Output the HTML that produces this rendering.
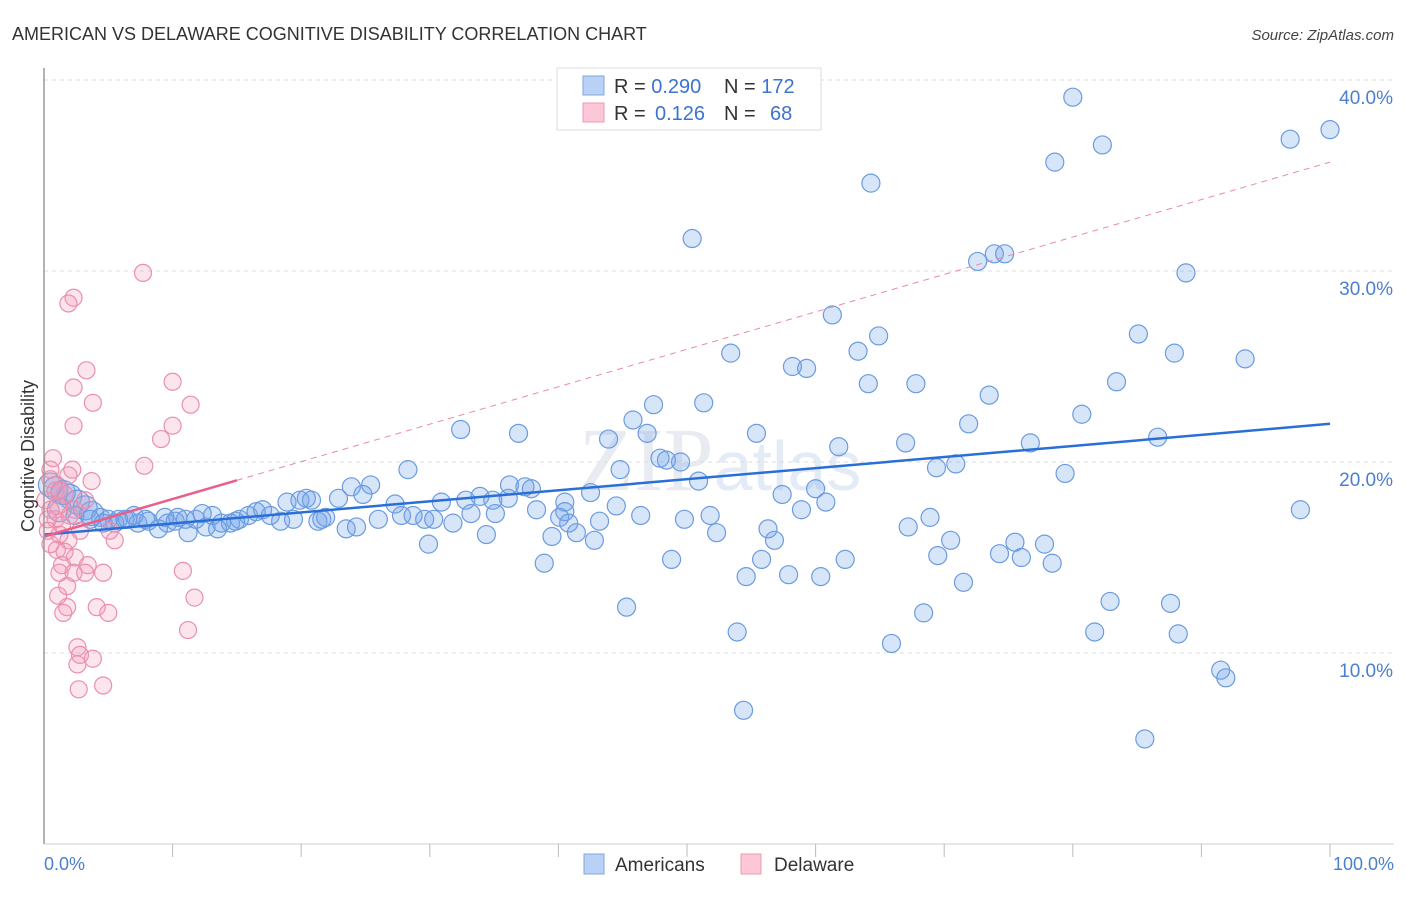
<!DOCTYPE html>
<html><head><meta charset="utf-8"><style>
body{margin:0;background:#fff;font-family:"Liberation Sans",sans-serif}
</style></head><body>
<svg id="c" width="1406" height="892" xmlns="http://www.w3.org/2000/svg" font-family="Liberation Sans, sans-serif">
<text x="12" y="40" font-size="18" fill="#333">AMERICAN VS DELAWARE COGNITIVE DISABILITY CORRELATION CHART</text>
<text x="1394" y="40" font-size="15" fill="#444" text-anchor="end" font-style="italic">Source: ZipAtlas.com</text>
<text x="720" y="490" font-size="90" fill="#e8ebf1" text-anchor="middle" font-family="Liberation Serif, serif">ZIP<tspan font-family="Liberation Sans, sans-serif" font-size="70" fill="#e3ebf7">atlas</tspan></text>
<g id="grid"></g><g id="pts"></g><g id="lines"></g>
<line x1="44" y1="68" x2="44" y2="844" stroke="#999" stroke-width="1.5"/>
<line x1="44" y1="844" x2="1394" y2="844" stroke="#ccc" stroke-width="1"/>
<g id="ticks"></g>
<text transform="translate(34,456) rotate(-90)" font-size="18" fill="#333" text-anchor="middle">Cognitive Disability</text>
<text x="44" y="870" font-size="18" fill="#4a7fd0">0.0%</text>
<text x="1394" y="870" font-size="18" fill="#4a7fd0" text-anchor="end">100.0%</text>
<g>
<rect x="557" y="68" width="264" height="62" fill="#fff" stroke="#ddd"/>
<rect x="583" y="76" width="21" height="19" fill="#b9d1f5" stroke="#7fa6e0"/>
<rect x="583" y="103" width="21" height="19" fill="#fcc7d6" stroke="#ee9ab3"/>
<text x="614" y="93" font-size="20" fill="#333">R = <tspan fill="#3b73cf">0.290</tspan><tspan x="724">N = </tspan><tspan fill="#3b73cf">172</tspan></text>
<text x="614" y="120" font-size="20" fill="#333">R = <tspan x="655" fill="#3b73cf">0.126</tspan><tspan x="724">N = </tspan><tspan x="770" fill="#3b73cf">68</tspan></text>
</g>
<g>
<rect x="584" y="854" width="20" height="20" fill="#b9d1f5" stroke="#7fa6e0"/>
<text x="615" y="871" font-size="19" fill="#333">Americans</text>
<rect x="741" y="854" width="20" height="20" fill="#fcc7d6" stroke="#ee9ab3"/>
<text x="774" y="871" font-size="19" fill="#333">Delaware</text>
</g>
</svg>
<script>
const yTicks=[10,20,30,40];
const yTickLabels=["10.0%","20.0%","30.0%","40.0%"];
const xTicks=[10,20,30,40,50,60,70,80,90,100];
const blueX=[80.0,100.0,96.9,82.3,78.6,64.3,50.4,73.9,74.7,72.6,88.8,61.3,64.9,85.1,63.3,53.4,87.9,93.4,58.2,59.3,83.4,64.1,67.8,73.5,47.4,51.3,80.7,45.8,71.9,32.4,36.9,46.9,55.4,67.0,86.6,76.7,61.8,43.9,47.9,48.4,49.5,70.9,69.4,44.8,28.3,79.4,50.9,36.2,37.4,37.9,23.9,25.4,60.0,57.4,60.8,42.5,24.8,30.9,32.8,33.9,34.9,36.1,27.3,40.5,44.5,38.3,40.5,58.9,97.7,46.4,49.8,51.8,68.9,27.8,28.7,29.6,26.0,30.3,31.8,33.2,35.1,40.1,40.8,43.2,41.4,39.5,42.8,34.4,29.9,52.3,56.3,67.2,56.8,70.5,75.5,77.8,74.3,69.5,76.0,48.8,38.9,62.3,55.8,78.4,54.6,57.9,60.4,71.5,82.9,87.6,45.3,68.4,53.9,81.7,88.2,65.9,91.5,91.9,54.4,85.6,
0.5,0.9,1.5,2.0,2.6,3.2,3.7,4.4,5.0,5.8,6.5,7.3,8.1,8.9,9.6,10.4,11.2,11.8,12.6,13.1,13.8,14.5,15.2,15.9,16.5,17.0,17.6,18.4,19.4,19.9,20.4,21.3,21.9,22.9,23.5,24.3,1.2,2.4,3.6,4.6,5.5,6.3,7.0,7.9,9.4,10.2,11.0,12.3,13.5,14.9,18.9,20.8,21.6];
const blueY=[39.1,37.4,36.9,36.6,35.7,34.6,31.7,30.9,30.9,30.5,29.9,27.7,26.6,26.7,25.8,25.7,25.7,25.4,25.0,24.9,24.2,24.1,24.1,23.5,23.0,23.1,22.5,22.2,22.0,21.7,21.5,21.5,21.5,21.0,21.3,21.0,20.8,21.2,20.2,20.1,20.0,19.9,19.7,19.6,19.6,19.4,19.0,18.8,18.7,18.6,18.7,18.8,18.6,18.3,17.9,18.4,18.3,17.9,18.0,18.2,18.0,18.1,17.8,17.9,17.7,17.5,17.4,17.5,17.5,17.2,17.0,17.2,17.1,17.2,17.2,17.0,17.0,17.0,16.8,17.3,17.3,17.1,16.8,16.9,16.3,16.1,15.9,16.2,15.7,16.3,16.5,16.6,15.9,15.9,15.8,15.7,15.2,15.1,15.0,14.9,14.7,14.9,14.9,14.7,14.0,14.1,14.0,13.7,12.7,12.6,12.4,12.1,11.1,11.1,11.0,10.5,9.1,8.7,7.0,5.5,
18.8,18.6,18.4,18.2,17.9,17.6,17.3,17.1,17.0,17.0,17.0,16.8,16.9,16.5,16.8,17.1,16.3,17.0,16.6,17.2,16.8,16.8,17.0,17.2,17.4,17.5,17.2,16.9,17.0,18.0,18.1,16.9,17.1,18.1,16.5,16.6,17.5,17.2,17.0,16.8,16.8,17.0,17.2,17.0,17.1,16.9,17.0,17.3,16.5,16.9,17.9,18.0,17.0];
const pinkX=[7.7,2.3,1.9,3.3,10.0,2.3,3.8,11.4,10.0,2.3,9.1,7.8,1.9,3.7,0.5,0.9,1.6,1.1,0.5,0.9,1.4,0.3,2.8,5.5,1.9,1.0,1.6,2.4,1.4,3.4,1.2,2.3,3.2,4.6,10.8,1.8,1.1,11.7,4.1,1.8,1.5,5.0,11.2,2.6,2.8,2.6,3.8,2.7,4.6,0.5,1.2,0.1,2.0,0.5,3.2,2.4,5.1,1.2,0.3,2.2,0.7];
const pinkY=[29.9,28.6,28.3,24.8,24.2,23.9,23.1,23.0,21.9,21.9,21.2,19.8,19.3,19.0,19.1,18.5,18.3,17.7,17.5,17.0,16.7,16.4,16.4,15.9,15.9,15.4,15.3,15.0,14.6,14.6,14.2,14.2,14.2,14.2,14.3,13.5,13.0,12.9,12.4,12.4,12.1,12.1,11.2,10.3,9.9,9.4,9.7,8.1,8.3,19.6,18.5,18.0,17.2,15.7,18.0,17.5,16.4,16.2,17.0,19.6,20.2];
const blueTrend=[16.2,22.0];
const pinkTrend=[16.1,0.196];
const X0=44,X1=1330,YB=844,PY=19.1;
const sx=v=>X0+(X1-X0)*v/100, sy=v=>YB-PY*v;
const NS="http://www.w3.org/2000/svg";
function mk(t,a,p){const e=document.createElementNS(NS,t);for(const k in a)e.setAttribute(k,a[k]);p.appendChild(e);return e;}
const grid=document.getElementById('grid'),ticks=document.getElementById('ticks');
yTicks.forEach((v,i)=>{
 const l=mk('line',{x1:44,x2:1394,y1:sy(v),y2:sy(v),stroke:'#ddd','stroke-dasharray':'4,4'},grid);
 
 
 const t=mk('text',{x:1393,y:sy(v)+24,'font-size':19,fill:'#4a7fd0','text-anchor':'end'},ticks);
 t.textContent=yTickLabels[i];
 
 
});
xTicks.forEach(v=>{
 const l=mk('line',{x1:sx(v),x2:sx(v),y1:844,y2:857,stroke:'#bbb'},ticks);
 
 
});
const pts=document.getElementById('pts');
blueX.forEach((x,i)=>{
 const r=(x<6&&blueY[i]>17.2)?12:9;
 const c=mk('circle',{cx:sx(x),cy:sy(blueY[i]),r:r,fill:'rgba(110,160,235,0.28)',stroke:'#6b9be0','stroke-width':1.2},pts);
 
 
});
pinkX.forEach((x,i)=>{
 const c=mk('circle',{cx:sx(x),cy:sy(pinkY[i]),r:8.5,fill:'rgba(245,150,180,0.25)',stroke:'#ea8fae','stroke-width':1.2},pts);
 
 
});
const lines=document.getElementById('lines');
const bl=mk('line',{x1:sx(0),y1:sy(blueTrend[0]),x2:sx(100),y2:sy(blueTrend[1]),stroke:'#2a6fd6','stroke-width':2.5},lines);


const pd=mk('line',{x1:sx(15),y1:sy(pinkTrend[0]+pinkTrend[1]*15),x2:sx(100),y2:sy(pinkTrend[0]+pinkTrend[1]*100),stroke:'#e88aa8','stroke-width':1,'stroke-dasharray':'6,5'},lines);


const pl=mk('line',{x1:sx(0),y1:sy(pinkTrend[0]),x2:sx(15),y2:sy(pinkTrend[0]+pinkTrend[1]*15),stroke:'#e8608a','stroke-width':2.5},lines);


</script>
</body></html>
